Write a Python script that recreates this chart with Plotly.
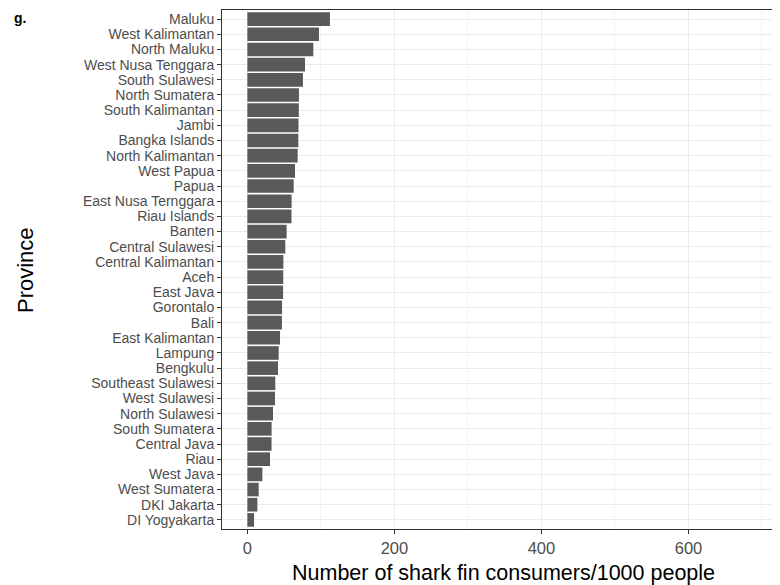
import plotly.graph_objects as go

provinces = ["Maluku", "West Kalimantan", "North Maluku", "West Nusa Tenggara", "South Sulawesi",
             "North Sumatera", "South Kalimantan", "Jambi", "Bangka Islands", "North Kalimantan",
             "West Papua", "Papua", "East Nusa Ternggara", "Riau Islands", "Banten",
             "Central Sulawesi", "Central Kalimantan", "Aceh", "East Java", "Gorontalo",
             "Bali", "East Kalimantan", "Lampung", "Bengkulu", "Southeast Sulawesi",
             "West Sulawesi", "North Sulawesi", "South Sumatera", "Central Java", "Riau",
             "West Java", "West Sumatera", "DKI Jakarta", "DI Yogyakarta"]
consumers = [112.3, 97.4, 89.7, 78.4, 75.6,
             70.2, 70.0, 69.5, 69.3, 68.4,
             64.8, 63.0, 60.2, 60.0, 53.4,
             51.6, 49.0, 48.8, 48.6, 47.2,
             47.0, 44.4, 42.6, 41.7, 38.0,
             37.6, 34.9, 33.0, 32.9, 30.8,
             20.4, 15.4, 13.6, 9.1]
x_ticks = [0, 200, 400, 600]
x_minor = [100, 300, 500, 700]

fig = go.Figure(go.Bar(
    x=consumers, y=provinces, orientation="h",
    marker=dict(color="#595959", line=dict(width=0)),
    width=0.9,
))

# page body has an 8px margin, so the figure is drawn 8px smaller and offset
OFF = 8
W, H = 780 - OFF, 585 - OFF
L, R, T, B = 222 - OFF, 0, 10 - OFF, 56
fig.update_layout(
    width=W, height=H,
    margin=dict(l=L, r=R, t=T, b=B, autoexpand=False),
    paper_bgcolor="white", plot_bgcolor="white",
    font=dict(family="Liberation Sans, Arial, sans-serif", color="#4D4D4D", size=16),
    showlegend=False,
)
fig.update_xaxes(
    automargin=False,
    range=[-34.5, 724.5], tickmode="array", tickvals=x_ticks, ticktext=[str(v) for v in x_ticks],
    showgrid=True, gridcolor="#EBEBEB", gridwidth=1,
    minor=dict(tickmode="array", tickvals=x_minor, showgrid=True,
               gridcolor="#F3F3F3", gridwidth=0.6, ticks=""),
    zeroline=False, showline=True, linecolor="#333333", linewidth=1, mirror=True,
    ticks="outside", ticklen=4, tickcolor="#333333",
    tickfont=dict(size=16.5, color="#4D4D4D"),
)
fig.update_yaxes(
    automargin=False,
    categoryorder="array", categoryarray=provinces[::-1],
    tickmode="array", tickvals=provinces, ticktext=provinces,
    range=[-0.6, len(provinces) - 0.4],
    showgrid=True, gridcolor="#EBEBEB", gridwidth=1,
    zeroline=False, showline=True, linecolor="#333333", linewidth=1, mirror=True,
    ticks="outside", ticklen=4, tickcolor="#333333",
    tickfont=dict(size=14, color="#4D4D4D"),
)

pw = W - L - R
ph = H - T - B

def px(x):
    return (x - OFF - L) / pw

def py(y):
    return (H - B - (y - OFF)) / ph

fig.add_annotation(text="Province", x=px(25), y=py(270), xref="paper", yref="paper",
                   xanchor="center", yanchor="middle",
                   showarrow=False, textangle=-90,
                   font=dict(size=22, color="black"))
fig.add_annotation(text="Number of shark fin consumers/1000 people", x=px(503), y=py(573),
                   xref="paper", yref="paper", xanchor="center", yanchor="middle", showarrow=False,
                   font=dict(size=21.5, color="black"))
fig.add_annotation(text="<b>g.</b>", x=px(12), y=py(18), xref="paper", yref="paper",
                   xanchor="left", yanchor="middle",
                   showarrow=False, font=dict(size=14, color="black"))

fig.write_html("out.html")
